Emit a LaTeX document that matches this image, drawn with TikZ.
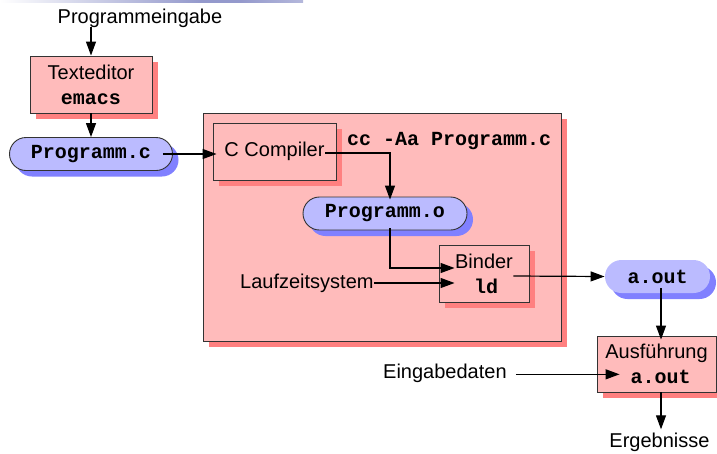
\documentclass[tikz,border=0pt]{standalone}
\usepackage{fontspec}
\setmainfont{Liberation Sans}
\setmonofont{Liberation Mono}
\usetikzlibrary{arrows.meta,calc,shadows,shapes.misc}

\definecolor{boxfill}{HTML}{FFBBBB}
\definecolor{boxshade}{HTML}{FF8080}
\definecolor{filefill}{HTML}{BBBBFF}
\definecolor{fileshade}{HTML}{8080FF}
\definecolor{framecol}{HTML}{333333}
\definecolor{barcol}{HTML}{9499CC}

\newcommand{\code}[1]{\texttt{\bfseries #1}}

\tikzset{
  every node/.style={font=\fontsize{20}{25}\selectfont, inner sep=0pt},
  stagebox/.style={draw=framecol, line width=0.9pt, fill=boxfill,
    align=center,
    drop shadow={shadow xshift=6pt, shadow yshift=-6pt, fill=boxshade, opacity=1}},
  filepill/.style={rounded rectangle, draw=framecol, line width=0.9pt,
    fill=filefill, minimum height=33pt,
    drop shadow={shadow xshift=6pt, shadow yshift=-6pt, fill=fileshade, opacity=1}},
  filepillplain/.style={filepill, draw=none},
  arr/.style={line width=1.2pt, -{Triangle[length=14pt,width=10pt]}},
}

\begin{document}
\begin{tikzpicture}[x=1pt,y=-1pt]
\useasboundingbox (0,0) rectangle (717,453);

% thin bar along the top edge
\shade[left color=white, right color=barcol] (0,0) rectangle (200,2.5);
\fill[barcol] (200,0) rectangle (240,2.5);
\shade[left color=barcol, right color=barcol!70] (240,0) rectangle (303,2.5);

% surrounding frame of the compile step
\node[stagebox, minimum width=358pt, minimum height=228pt] (frame) at (382,227) {};

% source input and editor
\node[anchor=base] (input) at (140,23) {Programmeingabe};
\node[stagebox, minimum width=122pt, minimum height=57pt] (editor) at (91,84.5)
  {Texteditor\\\code{emacs}};
\node[filepill, minimum width=163pt] (src) at (91,154) {\code{Programm.c}};

% compiler and linker
\node[stagebox, minimum width=123pt, minimum height=57pt] (comp) at (274.5,151.5) {C Compiler};
\node[anchor=base west] (cmd) at (347,145) {\code{cc -Aa Programm.c}};
\node[filepill, minimum width=164pt] (obj) at (385,213.5) {\code{Programm.o}};
\node[stagebox, minimum width=90pt, minimum height=57pt] (binder) at (484,273.5)
  {Binder\\\hspace*{4pt}\code{ld}};
\node[anchor=base west] (rts) at (240,288) {Laufzeitsystem};

% executable and its run
\node[filepillplain, minimum width=105pt] (exe) at (657.5,276.5) {\code{a.out}};
\node[stagebox, minimum width=119pt, minimum height=56pt] (run) at (656.5,364)
  {Ausführung\\\hspace*{8pt}\code{a.out}};
\node[anchor=base west] (data) at (383,378) {Eingabedaten};
\node[anchor=base] (result) at (659.5,447) {Ergebnisse};

% helper points where the arrows start and end
\coordinate (compin)  at ($(comp.west)+(4,0)$);
\coordinate (bindin)  at ($(binder.west)+(16,0)$);
\coordinate (runin)   at ($(run.west)+(23,0)$);
\coordinate (dataout) at ($(data.east)+(9,1.5)$);

% connectors
\draw[arr] (input.south -| editor.north) -- (editor.north);
\draw[arr] (editor.south) -- (src.north);
\draw[arr] ($(src.east)+(-10,0)$) -- (src.east -| compin);
\draw[arr] ($(comp.east)+(-11,1.5)$) -| ($(obj.north)+(5,3)$);
\draw[arr] ($(obj.south)+(5,-2)$) |- ($(bindin)+(0,-5.5)$);
\draw[arr] (rts.east |- {$(binder.west)+(0,9.5)$}) -- ($(bindin)+(0,9.5)$);
\draw[arr] ($(binder.east)+(-16,2.5)$) -- (exe.west);
\draw[arr] ($(exe.south)+(3.5,-5)$) -- ($(run.north)+(4.5,4)$);
\draw[arr] (dataout) -- (dataout -| runin);
\draw[arr] ($(run.south)+(4.5,0)$) -- ($(result.north)+(1.5,-3)$);
\end{tikzpicture}
\end{document}
